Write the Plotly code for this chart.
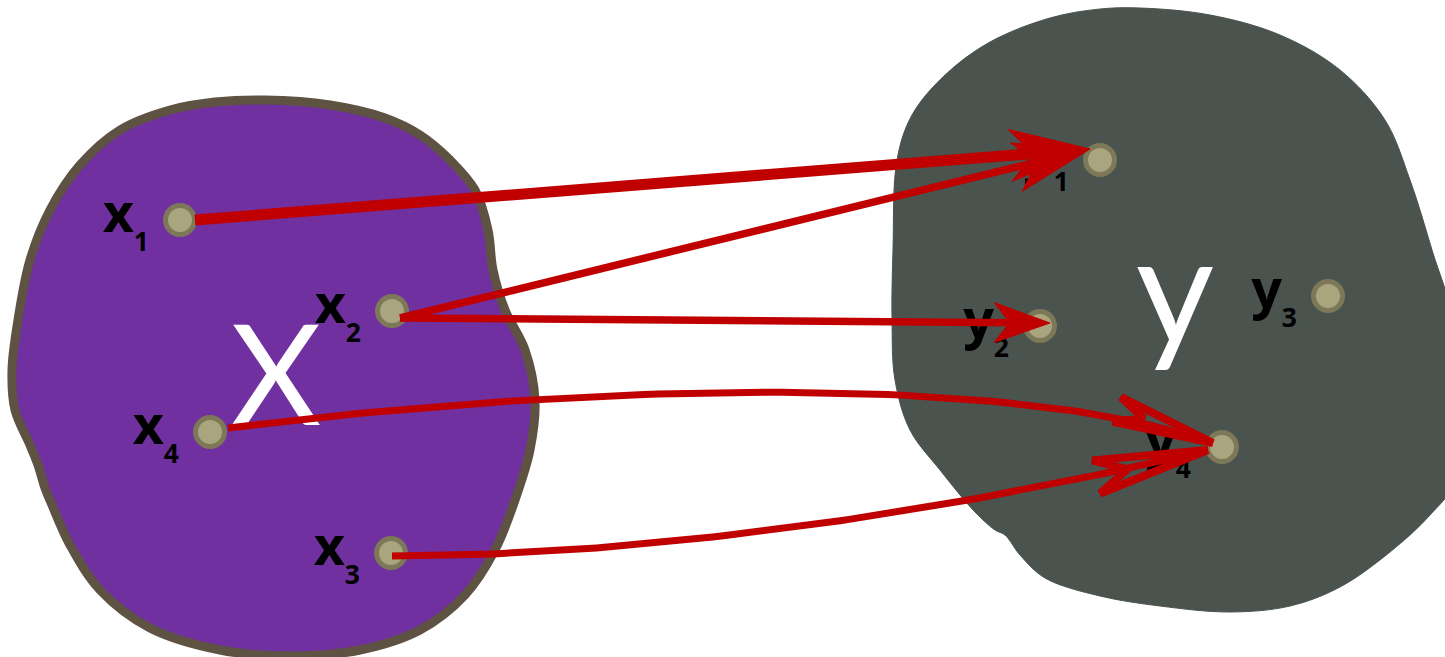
import numpy as np
import plotly.graph_objects as go

# ---------------- data ----------------
x_names = ["x1", "x2", "x3", "x4"]
x_node_px = [180, 392, 391, 210]
x_node_py = [220, 311, 553, 432]

y_names = ["y1", "y2", "y3", "y4"]
y_node_px = [1100, 1040, 1328, 1222]
y_node_py = [160, 326, 296, 447]

mapping_from = ["x1", "x2", "x2", "x4", "x3"]
mapping_to = ["y1", "y1", "y2", "y4", "y4"]

set_names = ["X", "y"]

# blob outlines (sketch outlines of the two sets)
blob_x_px = [265, 330, 385, 420, 450, 475, 488, 493, 505, 525, 535, 530, 515, 495, 465, 420, 360,
             290, 220, 150, 100, 70, 52, 45, 38, 30, 15, 12, 18, 30, 50, 80, 120, 170, 215]
blob_x_py = [100, 105, 118, 135, 160, 190, 230, 270, 310, 350, 400, 450, 500, 550, 595, 630, 650,
             656, 650, 628, 590, 545, 505, 488, 465, 445, 410, 370, 320, 260, 210, 165, 130, 110, 102]
blob_y_px = [1140, 1210, 1280, 1340, 1385, 1410, 1432, 1455, 1455, 1430, 1390, 1340, 1290, 1230,
             1160, 1100, 1045, 1020, 1005, 995, 975, 940, 910, 895, 892, 893, 897, 912, 945, 990, 1050, 1100]
blob_y_py = [8, 15, 35, 70, 120, 180, 250, 330, 480, 515, 552, 587, 606, 612,
             606, 596, 578, 555, 535, 530, 512, 470, 430, 380, 320, 250, 160, 115, 75, 42, 18, 9]

# ---------------- style ----------------
RED = "#C00000"
PURPLE = "#7030A0"
BORDER = "#5E5343"
DARK = "#4A534E"
DOT = "#A8A57F"
DOT_EDGE = "#7C7858"

arrow_width = [11, 7.5, 7.5, 7, 7]
start_off = [(15, 0), (8, 7), (8, 7), (18, -4), (1, 3)]
end_off = [(-10, -11), (-10, -11), (10, -3), (-9, -4), (-14, 3)]
# cubic bend parameters (a1, b1, a2, b2) relative to chord; None = straight
bends = [None, None, None, (0.326, -45.6, 0.783, -71.3), (0.314, 33.9, 0.686, 27.7)]
head_len = [80, 76, 56, 102, 115]
head_half = [26, 25, 20, 13, 17]
head_kind = ["fill", "fill", "fill", "open", "open"]

fig = go.Figure()

# blobs
fig.add_trace(go.Scatter(x=blob_x_px + blob_x_px[:1], y=blob_x_py + blob_x_py[:1], mode="lines",
                         line=dict(shape="spline", smoothing=1.0, color=BORDER, width=9),
                         fill="toself", fillcolor=PURPLE, hoverinfo="skip"))
fig.add_trace(go.Scatter(x=blob_y_px + blob_y_px[:1], y=blob_y_py + blob_y_py[:1], mode="lines",
                         line=dict(shape="spline", smoothing=1.0, color=DARK, width=1),
                         fill="toself", fillcolor=DARK, hoverinfo="skip"))

# big set names
fig.add_trace(go.Scatter(x=[276], y=[390], mode="text", text=set_names[:1],
                         textposition="middle center",
                         textfont=dict(family="Lato", size=140, color="white"), hoverinfo="skip"))
fig.add_trace(go.Scatter(x=[1175], y=[306], mode="text", text=set_names[1:],
                         textposition="middle center",
                         textfont=dict(family="Lato", size=152, color="white"), hoverinfo="skip"))

names = x_names + y_names
npx = x_node_px + y_node_px
npy = x_node_py + y_node_py


def lab(n):
    return "<b>%s<sub><sub>%s</sub></sub></b>" % (n[0], n[1:])


# node labels
fig.add_trace(go.Scatter(x=[p - 31 for p in npx], y=[p - 2 for p in npy],
                         mode="text", text=[lab(n) for n in names],
                         textposition="middle left",
                         textfont=dict(family="Open Sans", size=54, color="black"), hoverinfo="skip"))

# nodes
fig.add_trace(go.Scatter(x=npx, y=npy, mode="markers",
                         marker=dict(size=29, color=DOT, line=dict(color=DOT_EDGE, width=5)),
                         hoverinfo="skip"))

pos = {n: np.array([a, b], float) for n, a, b in zip(names, npx, npy)}

for i, (f, t) in enumerate(zip(mapping_from, mapping_to)):
    P0 = pos[f] + np.array(start_off[i], float)
    P3 = pos[t] + np.array(end_off[i], float)
    D = P3 - P0
    L = np.linalg.norm(D)
    d = D / L
    nvec = np.array([-d[1], d[0]])
    if bends[i] is None:
        pts = np.array([P0, P3])
        tang = d
    else:
        a1, b1, a2, b2 = bends[i]
        C1 = P0 + a1 * D + b1 * nvec
        C2 = P0 + a2 * D + b2 * nvec
        tt = np.linspace(0, 1, 80)[:, None]
        pts = ((1 - tt) ** 3) * P0 + 3 * ((1 - tt) ** 2) * tt * C1 + 3 * (1 - tt) * tt ** 2 * C2 + tt ** 3 * P3
        tang = (P3 - C2) / np.linalg.norm(P3 - C2)
    tn = np.array([-tang[1], tang[0]])
    hl, hw = head_len[i], head_half[i]
    tip = P3
    w1 = tip - hl * tang + hw * tn
    w2 = tip - hl * tang - hw * tn
    notch = tip - 0.72 * hl * tang
    hx = [tip[0], w1[0], notch[0], w2[0], tip[0]]
    hy = [tip[1], w1[1], notch[1], w2[1], tip[1]]
    if head_kind[i] == "fill":
        keep = pts.copy()
        keep[-1] = tip - 0.6 * hl * tang
        fig.add_trace(go.Scatter(x=keep[:, 0], y=keep[:, 1], mode="lines",
                                 line=dict(color=RED, width=arrow_width[i]), hoverinfo="skip"))
        fig.add_trace(go.Scatter(x=hx, y=hy, mode="lines", fill="toself", fillcolor=RED,
                                 line=dict(color=RED, width=1), hoverinfo="skip"))
    else:
        fig.add_trace(go.Scatter(x=pts[:, 0], y=pts[:, 1], mode="lines",
                                 line=dict(color=RED, width=arrow_width[i]), hoverinfo="skip"))
        fig.add_trace(go.Scatter(x=hx, y=hy, mode="lines",
                                 line=dict(color=RED, width=8), hoverinfo="skip"))

fig.update_layout(width=1445, height=657, margin=dict(l=0, r=0, t=0, b=0),
                  paper_bgcolor="white", plot_bgcolor="white", showlegend=False,
                  xaxis=dict(range=[0, 1445], visible=False, fixedrange=True),
                  yaxis=dict(range=[657, 0], visible=False, fixedrange=True))
fig.write_html("out.html", config={"displayModeBar": False})

with open("out.html", encoding="utf-8") as fh:
    html = fh.read()
html = html.replace("<head>", "<head><style>html,body{margin:0;padding:0;overflow:hidden;}</style>", 1)
with open("out.html", "w", encoding="utf-8") as fh:
    fh.write(html)
